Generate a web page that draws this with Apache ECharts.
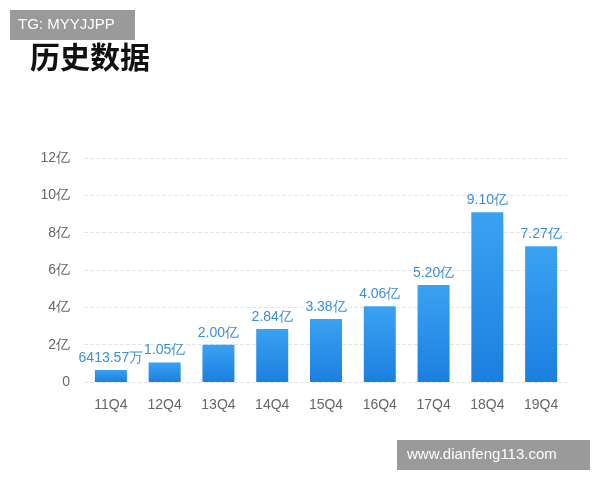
<!DOCTYPE html>
<html><head><meta charset="utf-8">
<script src="https://cdn.jsdelivr.net/npm/echarts@6/dist/echarts.min.js"></script>
<style>body{margin:0}#c{width:600px;height:480px}</style></head>
<body><div id="c"></div>
<script>
const categories=['11Q4','12Q4','13Q4','14Q4','15Q4','16Q4','17Q4','18Q4','19Q4'];
const values=[0.641357,1.05,2.00,2.84,3.38,4.06,5.20,9.10,7.27];
const valueLabels=['6413.57万','1.05亿','2.00亿','2.84亿','3.38亿','4.06亿','5.20亿','9.10亿','7.27亿'];
const yTicks=['0','2亿','4亿','6亿','8亿','10亿','12亿'];
const chart=echarts.init(document.getElementById('c'));
chart.setOption({
  backgroundColor:'#fff',
  graphic:[
    {type:'rect',left:10,top:10,shape:{width:125,height:30},style:{fill:'#9a9a9a'}},
    {type:'text',left:18,top:17,style:{text:'TG: MYYJJPP',fill:'#fff',font:'15px "Liberation Sans"'}},
    {type:'text',left:30,top:42,style:{text:'历史数据',fill:'#111',font:'bold 30px "Noto Sans CJK SC"'}},
    {type:'rect',left:397,top:440,shape:{width:193,height:30},style:{fill:'#9a9a9a'}},
    {type:'text',left:407,top:447,style:{text:'www.dianfeng113.com',fill:'#fff',font:'15px "Liberation Sans"'}}
  ],
  grid:{left:84,right:32,top:158,bottom:98},
  xAxis:{type:'category',data:categories,axisLine:{show:false},axisTick:{show:false},
    axisLabel:{color:'#666',fontSize:14,margin:16}},
  yAxis:{type:'value',min:0,max:12,interval:2,
    axisLabel:{color:'#666',fontSize:14,margin:14,formatter:(v,i)=>yTicks[i]},
    splitLine:{lineStyle:{color:'#e4e4e4',type:'dashed'}}},
  series:[{type:'bar',data:values,barWidth:32,
    itemStyle:{color:new echarts.graphic.LinearGradient(0,0,0,1,[{offset:0,color:'#3aa2f2'},{offset:1,color:'#1c7fe0'}])},
    label:{show:true,position:'top',color:'#3a8fd8',fontSize:14,formatter:p=>valueLabels[p.dataIndex]}}]
});
</script></body></html>
